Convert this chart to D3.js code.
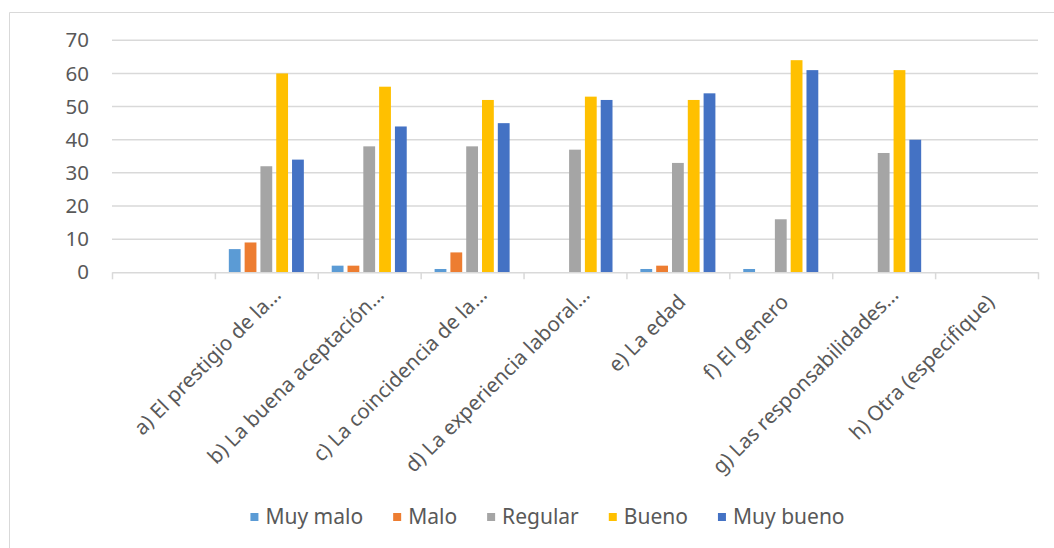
<!DOCTYPE html>
<html>
<head>
<meta charset="utf-8">
<script src="https://cdn.jsdelivr.net/npm/d3@7"></script>
<style>
  html, body { margin: 0; padding: 0; background: #fff; }
  svg { display: block; }
  text { font-family: "Noto Sans", sans-serif; fill: #595959; }
</style>
</head>
<body>
<svg id="chart" width="1054" height="548"></svg>
<script>
const categories = ["", "a) El prestigio de la…", "b) La buena aceptación…", "c) La coincidencia de la…",
  "d) La experiencia laboral…", "e) La edad", "f) El genero", "g) Las responsabilidades…", "h) Otra (especifique)"];
const seriesNames = ["Muy malo", "Malo", "Regular", "Bueno", "Muy bueno"];
const muyMalo  = [0, 7, 2, 1, 0, 1, 1, 0, 0];
const malo     = [0, 9, 2, 6, 0, 2, 0, 0, 0];
const regular  = [0, 32, 38, 38, 37, 33, 16, 36, 0];
const bueno    = [0, 60, 56, 52, 53, 52, 64, 61, 0];
const muyBueno = [0, 34, 44, 45, 52, 54, 61, 40, 0];
const yTicks = [0, 10, 20, 30, 40, 50, 60, 70];
const colors = ["#5B9BD5", "#ED7D31", "#A5A5A5", "#FFC000", "#4472C4"];

(function () {
const series = [muyMalo, malo, regular, bueno, muyBueno];
const svg = d3.select("#chart");

const plotLeft = 112, plotRight = 1038, plotTop = 40.3, plotBottom = 272.3;

// chart area frame
svg.append("path").attr("d", "M9.5,548V12.5H1054")
  .attr("fill", "none").attr("stroke", "#d9d9d9").attr("stroke-width", 1);

const y = d3.scaleLinear().domain([0, 70]).range([plotBottom, plotTop]);
const xb = d3.scaleLinear().domain([0, categories.length]).range([plotLeft, plotRight]);
const x0 = d3.scaleBand().domain(d3.range(categories.length)).range([plotLeft, plotRight])
  .paddingInner(0.232).paddingOuter(0.116);
const x1 = d3.scaleBand().domain(d3.range(seriesNames.length)).range([0, x0.bandwidth()]);

// gridlines
svg.append("g").selectAll("line").data(yTicks.filter(t => t > 0)).join("line")
  .attr("x1", plotLeft).attr("x2", plotRight)
  .attr("y1", d => y(d)).attr("y2", d => y(d))
  .attr("stroke", "#d9d9d9").attr("stroke-width", 1.5);

// y axis labels
const yAxis = svg.append("g").attr("transform", `translate(${plotLeft},0)`)
  .call(d3.axisLeft(y).tickValues(yTicks).tickSize(0).tickPadding(23));
yAxis.select(".domain").remove();
yAxis.selectAll("text").style("font-size", "20.5px").attr("fill", "#595959")
  .style("font-family", '"Noto Sans", sans-serif');

// bars
const bars = [];
categories.forEach((c, i) => series.forEach((s, j) => bars.push({ i, j, v: s[i] })));
svg.append("g").selectAll("rect").data(bars.filter(d => d.v > 0)).join("rect")
  .attr("x", d => x0(d.i) + x1(d.j) + 2)
  .attr("width", x1.bandwidth() - 4)
  .attr("y", d => y(d.v))
  .attr("height", d => y(0) - y(d.v))
  .attr("fill", d => colors[d.j]);

// x axis
const xAxis = svg.append("g").attr("transform", `translate(0,${plotBottom})`)
  .call(d3.axisBottom(xb).tickValues(d3.range(categories.length + 1)).tickSize(7).tickSizeOuter(0).tickFormat(""));
xAxis.select(".domain").attr("stroke", "#d9d9d9").attr("stroke-width", 1.5);
xAxis.selectAll(".tick line").attr("stroke", "#d9d9d9").attr("stroke-width", 1.5);

// category labels (rotated -45)
svg.append("g").selectAll("text").data(categories).join("text")
  .attr("transform", (d, i) => {
    const cx = xb(i + 0.5);
    const trunc = d.endsWith("…");
    const dx = trunc ? 16 : 9, dy = trunc ? 24 : 31;
    return `translate(${cx + dx},${plotBottom + dy}) rotate(-45)`;
  })
  .attr("text-anchor", "end")
  .style("font-size", "20.5px")
  .text(d => d);

// legend
const lg = svg.append("g");
const items = lg.selectAll("g").data(seriesNames).join("g");
items.append("rect").attr("width", 8).attr("height", 8).attr("y", 513)
  .attr("fill", (d, i) => colors[i]);
items.append("text").attr("x", 15).attr("y", 517).attr("dy", "0.35em")
  .style("font-size", "21px").text(d => d);
const widths = [];
items.each(function () { widths.push(15 + d3.select(this).select("text").node().getComputedTextLength()); });
const gap = 30;
const total = d3.sum(widths) + gap * (widths.length - 1);
let cur = 547.5 - total / 2;
items.each(function (d, i) {
  d3.select(this).attr("transform", `translate(${cur},0)`);
  cur += widths[i] + gap;
});
})();
</script>
</body>
</html>
